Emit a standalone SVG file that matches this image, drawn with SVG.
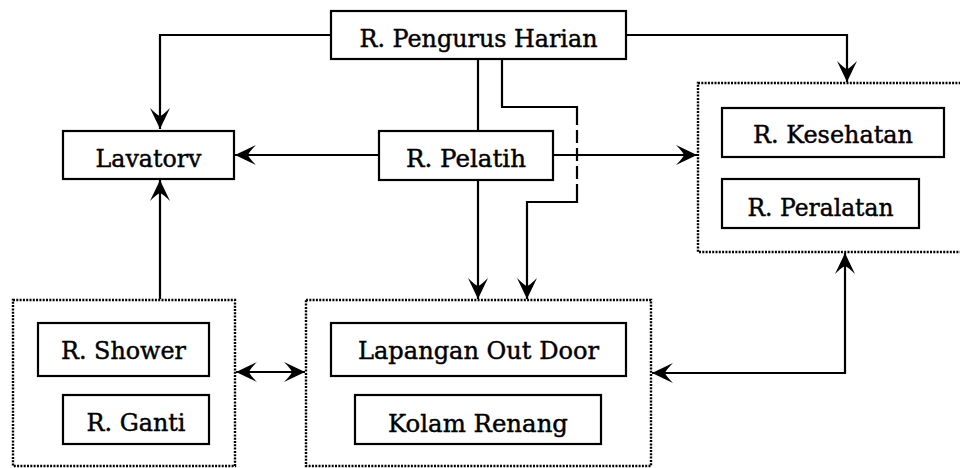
<svg xmlns="http://www.w3.org/2000/svg" width="960" height="468" viewBox="0 0 960 468">
<style>
.box{fill:#fff;stroke:#000;stroke-width:2.2}
.grp{fill:none;stroke:#000;stroke-width:2.4;stroke-dasharray:2 1.3}
.lbl{font-family:"DejaVu Serif","Liberation Serif",serif;font-size:24.5px;fill:#000;stroke:#000;stroke-width:0.45;text-anchor:middle}
.ln{fill:none;stroke:#000;stroke-width:2.2}
.dash{fill:none;stroke:#000;stroke-width:2.2;stroke-dasharray:13 5}
</style>
<defs>
<marker id="ah" viewBox="-22 -11 22 22" refX="0" refY="0" markerWidth="22" markerHeight="22" markerUnits="userSpaceOnUse" orient="auto-start-reverse">
<path d="M0,0 L-21,-10 Q-14,-3 -13,0 Q-14,3 -21,10 Z" fill="#000"/>
</marker>
</defs>
<rect width="960" height="468" fill="#fff"/>

<g id="group-left"><rect class="grp" x="13" y="300" width="222" height="166"/></g>
<g id="group-center"><rect class="grp" x="306" y="300" width="345" height="166"/></g>
<g id="group-right"><rect class="grp" x="698" y="83" width="280" height="169"/></g>

<g id="connectors">
<path class="ln" d="M331,35 H160 V129" marker-end="url(#ah)"/>
<path class="ln" d="M626,35 H847 V82" marker-end="url(#ah)"/>
<path class="ln" d="M478,59 V131"/>
<path class="ln" d="M502,59 V107 H577 V112"/>
<path class="dash" d="M577,112 V197"/>
<path class="ln" d="M577,197 V202 H527 V299" marker-end="url(#ah)"/>
<path class="ln" d="M379,155 H235" marker-end="url(#ah)"/>
<path class="ln" d="M553,155 H697" marker-end="url(#ah)"/>
<path class="ln" d="M478,180 V299" marker-end="url(#ah)"/>
<path class="ln" d="M160,299 V180" marker-end="url(#ah)"/>
<path class="ln" d="M236,372 H305" marker-start="url(#ah)" marker-end="url(#ah)"/>
<path class="ln" d="M652,373 H845 V253" marker-start="url(#ah)" marker-end="url(#ah)"/>
</g>

<g id="pengurus"><rect class="box" x="331" y="11" width="295" height="48"/><text class="lbl" x="478.5" y="47" textLength="238" lengthAdjust="spacingAndGlyphs">R. Pengurus Harian</text></g>
<g id="lavatory"><rect class="box" x="63" y="131" width="171" height="48"/><text class="lbl" x="148.5" y="167" textLength="106" lengthAdjust="spacingAndGlyphs">Lavatorv</text></g>
<g id="pelatih"><rect class="box" x="379" y="131" width="174" height="49"/><text class="lbl" x="466" y="167" textLength="120" lengthAdjust="spacingAndGlyphs">R. Pelatih</text></g>
<g id="kesehatan"><rect class="box" x="722" y="108" width="222" height="49"/><text class="lbl" x="833" y="143" textLength="160" lengthAdjust="spacingAndGlyphs">R. Kesehatan</text></g>
<g id="peralatan"><rect class="box" x="722" y="179" width="197" height="49"/><text class="lbl" x="820.5" y="216" textLength="146" lengthAdjust="spacingAndGlyphs">R. Peralatan</text></g>
<g id="shower"><rect class="box" x="38" y="323" width="171" height="53"/><text class="lbl" x="123.5" y="359" textLength="125" lengthAdjust="spacingAndGlyphs">R. Shower</text></g>
<g id="ganti"><rect class="box" x="63" y="395" width="146" height="49"/><text class="lbl" x="136" y="431" textLength="99" lengthAdjust="spacingAndGlyphs">R. Ganti</text></g>
<g id="lapangan"><rect class="box" x="331" y="323" width="295" height="53"/><text class="lbl" x="478.5" y="359" textLength="241" lengthAdjust="spacingAndGlyphs">Lapangan Out Door</text></g>
<g id="kolam"><rect class="box" x="355" y="395" width="246" height="49"/><text class="lbl" x="478" y="432" textLength="180" lengthAdjust="spacingAndGlyphs">Kolam Renang</text></g>
</svg>
